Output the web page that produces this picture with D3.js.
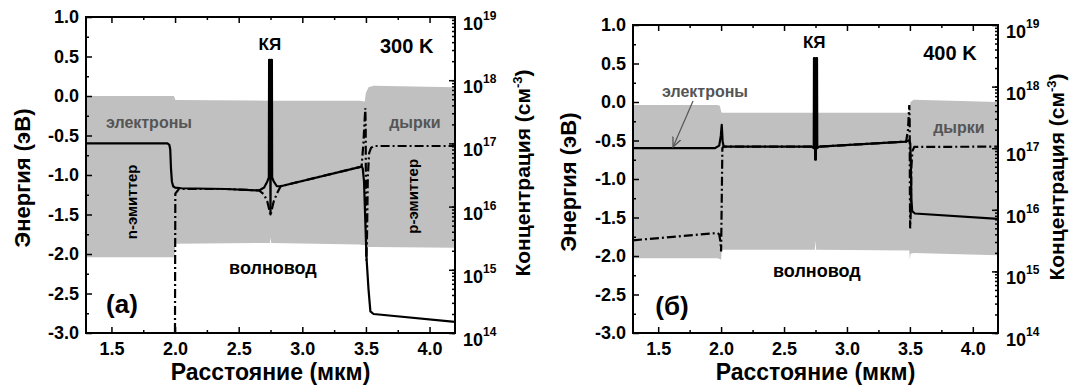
<!DOCTYPE html>
<html>
<head>
<meta charset="utf-8">
<script src="https://cdn.jsdelivr.net/npm/d3@7"></script>
<style>
  body { margin: 0; background: #fff; }
  svg text { font-family: "Liberation Sans", Arial, sans-serif; font-weight: bold; }
  .axis text { font-size: 18px; fill: #000; }
  .axis line { stroke: #000; stroke-width: 1.5; }
  .axis path { display: none; }
</style>
</head>
<body>
<div id="chart"></div>
<script>
// ----------------------------
// Data
// ----------------------------
const xTicks = [1.5, 2.0, 2.5, 3.0, 3.5, 4.0];
const xMinorTicks = [1.75, 2.25, 2.75, 3.25, 3.75];
const energyTicks = [1.0, 0.5, 0.0, -0.5, -1.0, -1.5, -2.0, -2.5, -3.0];
const energyMinorTicks = [0.75, 0.25, -0.25, -0.75, -1.25, -1.75, -2.25, -2.75];
const concDecades = [1e14, 1e15, 1e16, 1e17, 1e18, 1e19];

// grey band: [x (мкм), upper edge (эВ), lower edge (эВ)]
const bandA = [
  [1.3, 0.0, -2.04], [1.99, 0.0, -2.04], [1.996, -0.02, -2.03],
  [2.002, -0.05, -1.87], [2.745, -0.06, -1.86], [2.75, -0.06, -1.79],
  [2.755, -0.06, -1.86], [3.45, -0.06, -1.88], [3.49, -0.07, -1.89],
  [3.5, 0.04, -1.9], [3.52, 0.11, -1.91], [3.56, 0.13, -1.91],
  [4.2, 0.11, -1.92],
];
const bandB = [
  [1.3, -0.04, -2.03], [1.97, -0.04, -2.03], [1.99, -0.05, -2.04],
  [2.0, -0.12, -2.05], [2.005, -0.14, -1.92], [2.745, -0.14, -1.92],
  [2.75, -0.14, -1.8], [2.755, -0.14, -1.92], [3.495, -0.14, -1.93],
  [3.5, -0.05, -2.05], [3.505, 0.0, -1.97], [3.53, 0.03, -1.96],
  [4.2, 0.0, -1.99],
];

// concentrations: [x (мкм), см^-3]
const electronsA = [
  [1.3, 1.0e17], [1.94, 1.0e17], [1.955, 9.5e16], [1.962, 8e16],
  [1.968, 4e16], [1.975, 2.5e16], [1.985, 2.1e16], [2.0, 2.0e16],
  [2.05, 1.95e16], [2.4, 1.9e16], [2.66, 1.8e16], [2.7, 2.0e16],
  [2.725, 2.5e16], [2.737, 2.9e16], [2.739, 2.1e18], [2.745, 2.1e18],
  [2.75, 7.5e15], [2.755, 2.1e18], [2.761, 2.1e18], [2.763, 2.9e16],
  [2.775, 2.5e16], [2.8, 2.1e16], [2.83, 2.1e16],
  [3.466, 4.3e16], [3.475, 4.0e16], [3.485, 2.5e16], [3.495, 6e15],
  [3.505, 1.5e15], [3.52, 5e14], [3.535, 2.2e14], [3.56, 2.0e14],
  [4.2, 1.5e14],
];
const holesA = [
  [1.3, 1e13], [1.998, 1e13], [2.002, 1.6e16], [2.03, 1.9e16],
  [2.4, 1.9e16], [2.66, 1.8e16], [2.7, 1.55e16], [2.725, 1.2e16],
  [2.74, 9e15], [2.745, 8e15], [2.755, 8e15], [2.76, 9e15],
  [2.775, 1.2e16], [2.8, 1.6e16], [2.83, 2.1e16], [3.466, 4.3e16],
  [3.48, 1.0e17], [3.495, 3.6e17], [3.498, 2e17], [3.5, 1e16],
  [3.503, 1.4e15], [3.508, 3e15], [3.515, 3e16], [3.525, 7e16],
  [3.54, 8.5e16], [3.56, 9.1e16], [4.2, 9.1e16],
];
const electronsB = [
  [1.3, 1.0e17], [1.95, 1.0e17], [1.985, 1.1e17], [1.998, 1.6e17],
  [2.005, 2.4e17], [2.012, 1.3e17], [2.02, 1.07e17], [2.05, 1.06e17],
  [2.72, 1.06e17], [2.73, 1.02e17], [2.736, 1.0e17], [2.738, 2.9e18],
  [2.744, 2.9e18], [2.747, 6.5e16], [2.753, 6.5e16], [2.756, 2.9e18],
  [2.762, 2.9e18], [2.764, 1.0e17], [2.77, 1.03e17], [2.78, 1.06e17],
  [3.47, 1.28e17], [3.495, 1.35e17], [3.503, 1.2e17], [3.508, 5e16],
  [3.512, 1.5e16], [3.518, 9.5e15], [3.54, 8.7e15], [4.2, 7.1e15],
];
const holesB = [
  [1.3, 3.2e15], [1.97, 4.2e15], [1.985, 4.0e15], [1.995, 3.0e15],
  [2.0, 2.1e15], [2.01, 1.0e17], [2.02, 1.06e17], [2.72, 1.06e17],
  [2.78, 1.06e17], [3.47, 1.28e17], [3.485, 2e17], [3.495, 5e17],
  [3.498, 3e17], [3.5, 2e16], [3.502, 5e15], [3.506, 8e15],
  [3.512, 5e16], [3.52, 9e16], [3.535, 1.05e17], [4.2, 1.06e17],
];

// ----------------------------
// BandChart
// ----------------------------
class BandChart {
  constructor(_config) {
    this.config = {
      id: 'a',
      left: 0,
      top: 0,
      width: 360,
      height: 310,
      notes: [],
      ..._config,
    };
    this.initVis();
  }

  initVis() {
    const vis = this;
    const c = vis.config;

    vis.chart = c.svg
      .append('g')
      .attr('transform', `translate(${c.left},${c.top})`);

    vis.xScale = d3.scaleLinear().domain([1.3, 4.2]).range([0, c.width]);
    vis.yScale = d3.scaleLinear().domain([-3, 1]).range([c.height, 0]);
    vis.logScale = d3.scaleLog().domain([1e14, 1e19]).range([c.height, 0]);

    c.svg
      .append('clipPath')
      .attr('id', `clip-${c.id}`)
      .append('rect')
      .attr('width', c.width)
      .attr('height', c.height);

    vis.renderVis();
  }

  renderVis() {
    const vis = this;
    const c = vis.config;
    const x = vis.xScale;
    const y = vis.yScale;
    const yLog = vis.logScale;

    const plot = vis.chart.append('g').attr('clip-path', `url(#clip-${c.id})`);

    // grey band
    plot
      .append('path')
      .datum(c.band)
      .attr('fill', '#c0c0c0')
      .attr(
        'd',
        d3.area().x(d => x(d[0])).y0(d => y(d[2])).y1(d => y(d[1])),
      );

    const line = d3.line().x(d => x(d[0])).y(d => yLog(d[1]));

    plot
      .append('path')
      .datum(c.holes)
      .attr('fill', 'none')
      .attr('stroke', '#000')
      .attr('stroke-width', 2.2)
      .attr('stroke-dasharray', '9,3,2,3')
      .attr('d', line);

    plot
      .append('path')
      .datum(c.electrons)
      .attr('fill', 'none')
      .attr('stroke', '#000')
      .attr('stroke-width', 2.2)
      .attr('stroke-linejoin', 'round')
      .attr('d', line);

    // axes (ticks inward)
    const fmt = d => d.toFixed(1);
    vis.chart.append('g').attr('class', 'axis')
      .attr('transform', `translate(0,${c.height})`)
      .call(d3.axisBottom(x).tickValues(xTicks).tickFormat(fmt).tickSize(-6).tickPadding(9));
    vis.chart.append('g').attr('class', 'axis')
      .attr('transform', `translate(0,${c.height})`)
      .call(d3.axisBottom(x).tickValues(xMinorTicks).tickFormat('').tickSize(-3));
    vis.chart.append('g').attr('class', 'axis')
      .call(d3.axisTop(x).tickValues(xTicks).tickFormat('').tickSize(-6));
    vis.chart.append('g').attr('class', 'axis')
      .call(d3.axisTop(x).tickValues(xMinorTicks).tickFormat('').tickSize(-3));
    vis.chart.append('g').attr('class', 'axis')
      .call(d3.axisLeft(y).tickValues(energyTicks).tickFormat(fmt).tickSize(-6).tickPadding(7));
    vis.chart.append('g').attr('class', 'axis')
      .call(d3.axisLeft(y).tickValues(energyMinorTicks).tickFormat('').tickSize(-3));
    vis.chart.append('g').attr('class', 'axis')
      .attr('transform', `translate(${c.width},0)`)
      .call(d3.axisRight(yLog).tickValues(concDecades).tickFormat('').tickSize(-6));
    vis.chart.append('g').attr('class', 'axis')
      .attr('transform', `translate(${c.width},0)`)
      .call(d3.axisRight(yLog).tickValues(yLog.ticks()).tickFormat('').tickSize(-3));

    // log labels 10^n
    const logLabels = vis.chart
      .selectAll('.log-label')
      .data(concDecades)
      .enter()
      .append('text')
      .attr('class', 'log-label')
      .attr('x', c.width + 8)
      .attr('y', d => yLog(d) + 13)
      .attr('font-size', 18);
    logLabels.append('tspan').text('10');
    logLabels
      .append('tspan')
      .attr('dy', -10)
      .attr('font-size', 12)
      .text(d => Math.round(Math.log10(d)));

    // frame
    vis.chart
      .append('rect')
      .attr('width', c.width)
      .attr('height', c.height)
      .attr('fill', 'none')
      .attr('stroke', '#000')
      .attr('stroke-width', 2);

    // axis titles
    vis.chart
      .append('text')
      .attr('text-anchor', 'middle')
      .attr('font-size', 23)
      .attr('x', c.width / 2)
      .attr('y', c.height + 47)
      .text('Расстояние (мкм)');

    vis.chart
      .append('text')
      .attr('text-anchor', 'middle')
      .attr('font-size', 22)
      .attr('dy', '0.35em')
      .attr('transform', `translate(${c.leftTitle},${c.height / 2 + 3}) rotate(-90)`)
      .text('Энергия (эВ)');

    const rt = vis.chart
      .append('text')
      .attr('text-anchor', 'middle')
      .attr('font-size', 21)
      .attr('dy', '0.35em')
      .attr('transform', `translate(${c.width + c.rightTitle},${c.height / 2 - 2}) rotate(-90)`);
    rt.append('tspan').text('Концентрация (см');
    rt.append('tspan').attr('dy', -8).attr('font-size', 13).text('-3');
    rt.append('tspan').attr('dy', 8).text(')');

    // arrow marker
    c.svg
      .append('defs')
      .append('marker')
      .attr('id', `arrow-${c.id}`)
      .attr('viewBox', '0 0 10 10')
      .attr('refX', 9)
      .attr('refY', 5)
      .attr('markerWidth', 9)
      .attr('markerHeight', 9)
      .attr('orient', 'auto')
      .append('path')
      .attr('d', 'M0,1 L9,5 L0,9')
      .attr('fill', 'none')
      .attr('stroke', '#555')
      .attr('stroke-width', 1.2);

    if (c.arrow) {
      vis.chart
        .append('line')
        .attr('x1', x(c.arrow[0]))
        .attr('y1', y(c.arrow[1]))
        .attr('x2', x(c.arrow[2]))
        .attr('y2', y(c.arrow[3]))
        .attr('stroke', '#555')
        .attr('stroke-width', 1.2)
        .attr('marker-end', `url(#arrow-${c.id})`);
    }

    // annotations
    vis.chart
      .selectAll('.note')
      .data(c.notes)
      .enter()
      .append('text')
      .attr('class', 'note')
      .attr('text-anchor', 'middle')
      .attr('font-size', d => d.size)
      .attr('fill', d => d.color || '#000')
      .attr('dy', d => (d.rotate ? '0.35em' : 0))
      .attr(
        'transform',
        d => `translate(${x(d.x)},${y(d.e)})` + (d.rotate ? ' rotate(-90)' : ''),
      )
      .text(d => d.text);
  }
}

// ----------------------------
// Build
// ----------------------------
const svg = d3
  .select('#chart')
  .append('svg')
  .attr('width', 1076)
  .attr('height', 387);

new BandChart({
  svg,
  id: 'a',
  left: 86,
  top: 17,
  width: 369,
  height: 316,
  leftTitle: -64,
  rightTitle: 68,
  band: bandA,
  electrons: electronsA,
  holes: holesA,
  notes: [
    { text: 'КЯ', x: 2.745, e: 0.58, size: 17 },
    { text: '300 K', x: 3.82, e: 0.545, size: 20 },
    { text: 'электроны', x: 1.795, e: -0.405, size: 16, color: '#555' },
    { text: 'дырки', x: 3.885, e: -0.405, size: 16, color: '#555' },
    { text: 'n-эмиттер', x: 1.661, e: -1.34, size: 15, rotate: true },
    { text: 'р-эмиттер', x: 3.869, e: -1.27, size: 15, rotate: true },
    { text: 'волновод', x: 2.769, e: -2.253, size: 18 },
    { text: '(а)', x: 1.583, e: -2.747, size: 26 },
  ],
});

new BandChart({
  svg,
  id: 'b',
  left: 633,
  top: 25,
  width: 365,
  height: 308,
  leftTitle: -65,
  rightTitle: 59,
  band: bandB,
  electrons: electronsB,
  holes: holesB,
  arrow: [1.777, 0.013, 1.618, -0.584],
  notes: [
    { text: 'КЯ', x: 2.74, e: 0.7, size: 17 },
    { text: '400 K', x: 3.818, e: 0.545, size: 20 },
    { text: 'электроны', x: 1.872, e: 0.065, size: 16, color: '#555' },
    { text: 'дырки', x: 3.889, e: -0.4, size: 16, color: '#555' },
    { text: 'волновод', x: 2.761, e: -2.27, size: 18 },
    { text: '(б)', x: 1.61, e: -2.77, size: 26 },
  ],
});
</script>
</body>
</html>
